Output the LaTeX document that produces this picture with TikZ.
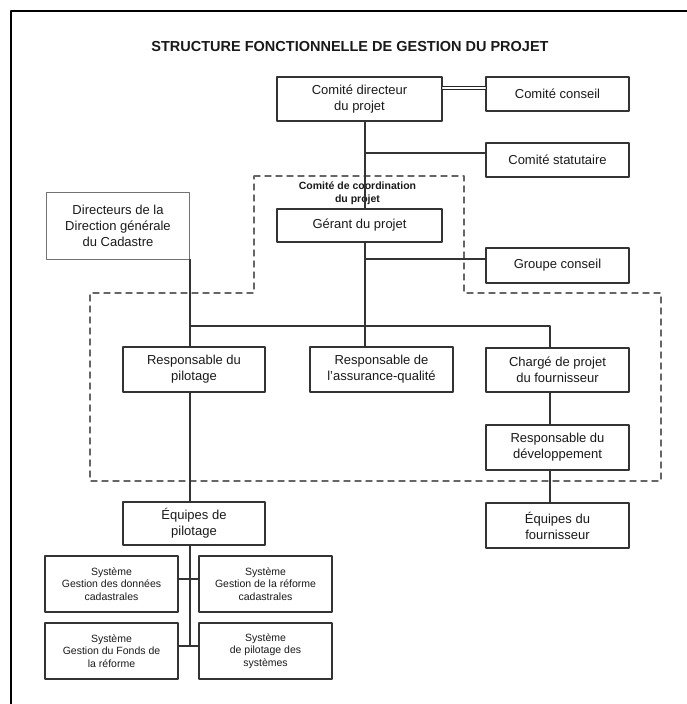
\documentclass[tikz,border=0pt]{standalone}
\usepackage{fontspec}
\setmainfont{Liberation Sans}
\begin{document}
\begin{tikzpicture}[x=1pt,y=-1pt,line cap=round,line join=round]
	\tikzset{box/.style={draw=black!80,line width=1.5pt,align=center,inner sep=0pt,text=black!90,font=\fontsize{13}{16}\selectfont,minimum width=143pt,minimum height=44pt},
		sys/.style={box,font=\fontsize{10.5}{12.5}\selectfont,minimum width=133pt,minimum height=56pt},
		wire/.style={draw=black!80,line width=1.2pt},
		zone/.style={draw=black!60,line width=1.4pt,dash pattern=on 6pt off 5pt}}
	\useasboundingbox (0,0) rectangle (687,704);
	\draw[line width=2pt] (10.5,704) -- (10.5,10.5) -- (687,10.5);
	\node[font=\fontsize{14.5}{16}\selectfont\bfseries,text=black!90] (titre) at (350,47) {STRUCTURE FONCTIONNELLE DE GESTION DU PROJET};
	\draw[zone] (254,176) -- (464,176) -- (464,293) -- (661,293) -- (661,481) -- (90,481) -- (90,293) -- (254,293) -- cycle;
	\node[align=center,font=\fontsize{10.5}{13.5}\selectfont\bfseries,text=black!90] (coord) at (357.5,193) {Comité de coordination\\du projet};
	\node[box,minimum width=165pt] (dir) at (359.5,99) {Comité directeur\\du projet};
	\node[box,minimum height=34pt] (conseil) at (557.5,94) {Comité conseil};
	\node[box,minimum height=34pt] (statut) at (557.5,160) {Comité statutaire};
	\node[box,minimum width=165pt,minimum height=33pt] (gerant) at (359.5,225.5) {Gérant du projet};
	\node[box,draw=black!55,line width=1pt,minimum width=143pt,minimum height=67pt] (dgc) at (118,225.5) {Directeurs de la\\Direction générale\\du Cadastre};
	\node[box,minimum height=35pt] (groupe) at (557.5,265.5) {Groupe conseil};
	\node[box,minimum width=142pt,minimum height=45pt] (pil) at (194,369.5) {Responsable du\\pilotage};
	\node[box,minimum height=45pt] (aq) at (381.5,369.5) {Responsable de\\l'assurance-qualité};
	\node[box] (charge) at (557.5,370) {Chargé de projet\\du fournisseur};
	\node[box,minimum height=45pt] (dev) at (557.5,447.5) {Responsable du\\développement};
	\node[box,minimum width=142pt,minimum height=43pt] (eqp) at (194,523.5) {Équipes de\\pilotage};
	\node[box,minimum height=45pt] (eqf) at (557.5,525.5) {Équipes du\\fournisseur};
	\foreach \n/\x/\y/\t in {s1/111.5/584/{Système\\Gestion des données\\cadastrales},s2/265.5/584/{Système\\Gestion de la réforme\\cadastrales},s3/111.5/651/{Système\\Gestion du Fonds de\\la réforme},s4/265.5/651/{Système\\de pilotage des\\systèmes}}{\node[sys] (\n) at (\x,\y) {\t};}
	\coordinate (tr) at (365,0);
	\coordinate (c1) at (365,153);
	\coordinate (c2) at (365,259);
	\coordinate (bl) at (190,326);
	\coordinate (br) at (550,326);
	\draw[draw=black!85,double=white,double distance=1.4pt,line width=1.1pt] ([yshift=11pt]dir.east) -- ([yshift=11pt]dir.east -| conseil.west);
	\draw[wire] (tr |- dir.south) -- (tr |- gerant.north);
	\draw[wire] (c1) -- (c1 -| statut.west);
	\draw[wire] (tr |- gerant.south) -- (tr |- aq.north);
	\draw[wire] (c2) -- (c2 -| groupe.west);
	\draw[wire] (bl |- dgc.south) -- (bl |- pil.north);
	\draw[wire] (bl) -- (br) -- (br |- charge.north);
	\draw[wire] (br |- charge.south) -- (br |- dev.north);
	\draw[wire] (br |- dev.south) -- (br |- eqf.north);
	\draw[wire] (bl |- pil.south) -- (bl |- eqp.north);
	\draw[wire] (bl |- eqp.south) -- ([yshift=5pt]bl |- s3.east);
	\draw[wire] ([yshift=5pt]s1.east) -- ([yshift=5pt]s2.west);
	\draw[wire] ([yshift=5pt]s3.east) -- ([yshift=5pt]s4.west);
\end{tikzpicture}
\end{document}
